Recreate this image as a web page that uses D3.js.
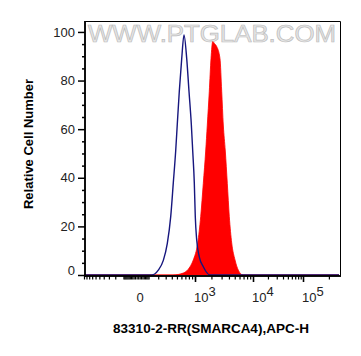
<!DOCTYPE html>
<html>
<head>
<meta charset="utf-8">
<script src="https://cdn.jsdelivr.net/npm/d3@7"></script>
<style>
  body { margin: 0; background: #fff; }
  text { font-family: "Liberation Sans", Arial, sans-serif; }
</style>
</head>
<body>
<svg width="361" height="356"></svg>
<script>
// Histogram data (fluorescence intensity, relative cell count)
const controlIntensity = [-1000, 132, 201, 266, 325, 381, 428, 474, 507, 551, 607, 664, 737, 803, 875, 921, 975, 1013, 1078, 1206, 1430, 1887, 262144];
const controlCount     = [0, 0, 2, 6, 13, 24, 38, 51, 62, 75.6, 89, 98.8, 89, 75.6, 62, 51, 38, 24, 14.4, 7.5, 3.4, 0, 0];

const stainedIntensity = [-1000, 422, 646, 834, 941, 1126, 1281, 1430, 1581, 1689, 1834, 1966, 2106, 2300, 2472, 2818, 3014, 3210, 3471, 3752, 4055, 4449, 5051, 5731, 6855, 262144];
const stainedCount     = [0, 0, 0.8, 3.4, 6.2, 13.2, 24, 37.7, 51, 61.7, 75.6, 89, 96, 95, 94, 89, 75.6, 61.7, 51, 37.7, 24, 13.2, 6.2, 2, 0, 0];

const yMajorTicks = [0, 20, 40, 60, 80, 100];
const xDecades = [3, 4, 5];
const xTitle = '83310-2-RR(SMARCA4),APC-H';
const yTitle = 'Relative Cell Number';

const svg = d3.select('svg');

// logicle-like x scale, piecewise symlog
const x = d3.scaleSymlog().constant(200)
  .domain([-1000, 0, 1e3, 1e4, 1e5, 262144])
  .range([84, 135, 195, 253, 303, 339]);
const y = d3.scaleLinear().domain([0, 104.5]).range([275, 21]);

const control = controlIntensity.map((v, i) => ({x: v, y: controlCount[i]}));
const stained = stainedIntensity.map((v, i) => ({x: v, y: stainedCount[i]}));

// watermark
svg.append('text')
  .attr('x', 88).attr('y', 42)
  .attr('textLength', 248).attr('lengthAdjust', 'spacingAndGlyphs')
  .attr('font-size', 23)
  .attr('fill', '#e6e6e6').attr('stroke', '#bdbdbd').attr('stroke-width', 0.7)
  .text('WWW.PTGLAB.COM');

// stained histogram (filled)
svg.append('path')
  .datum(stained)
  .attr('fill', '#ff0000')
  .attr('stroke', '#ff0000')
  .attr('stroke-width', 0.8)
  .attr('d', d3.area().curve(d3.curveMonotoneX)
    .x(d => x(d.x)).y0(y(0)).y1(d => y(d.y)));

// control histogram (line)
svg.append('path')
  .datum(control)
  .attr('fill', 'none')
  .attr('stroke', '#16167e')
  .attr('stroke-width', 1.4)
  .attr('d', d3.line().curve(d3.curveMonotoneX)
    .x(d => x(d.x)).y(d => y(d.y)));

// frame
svg.append('path')
  .attr('d', 'M85,21.5H340.5V275.5')
  .attr('fill', 'none').attr('stroke', '#000').attr('stroke-width', 1);

// y axis (minor and major ticks in separate groups)
const yMinor = d3.range(0, 101, 5).filter(v => v % 20 !== 0);
svg.append('g').attr('class', 'y-minor').attr('transform', 'translate(85,0)')
  .call(d3.axisLeft(y).tickValues(yMinor).tickSize(3).tickFormat(''));
const gy = svg.append('g').attr('class', 'y-major').attr('transform', 'translate(85,0)')
  .call(d3.axisLeft(y).tickValues(yMajorTicks).tickSize(7).tickPadding(3).tickFormat(d3.format('d')));
svg.selectAll('.y-minor .domain, .y-major .domain').attr('d', 'M0,21V277').attr('stroke-width', 1.5);
svg.selectAll('.y-minor .tick line, .y-major .tick line').attr('stroke-width', 1.5);
gy.selectAll('.tick text')
  .attr('font-size', 13).attr('fill', '#222')
  .filter(d => d === 0).attr('dy', '-0.05em');

// x axis
const xMinor = [];
d3.range(-100, 101, 10).forEach(v => xMinor.push(v));
d3.range(200, 1001, 100).forEach(v => { xMinor.push(v); xMinor.push(-v); });
[3, 4].forEach(p => d3.range(2, 10).forEach(k => xMinor.push(k * Math.pow(10, p))));
xMinor.push(2e5);
const xMajor = xDecades.map(p => Math.pow(10, p));

svg.append('g').attr('class', 'x-minor').attr('transform', 'translate(0,276)')
  .call(d3.axisBottom(x).tickValues(xMinor).tickSize(3.5).tickFormat(''));
svg.append('g').attr('class', 'x-major').attr('transform', 'translate(0,276)')
  .call(d3.axisBottom(x).tickValues(xMajor).tickSize(6).tickFormat(''));
svg.selectAll('.x-minor .domain, .x-major .domain').attr('d', 'M84,0H341').attr('stroke-width', 1.5);
svg.selectAll('.x-minor .tick line, .x-major .tick line').attr('stroke-width', 1.2).attr('stroke', '#000');
svg.selectAll('.x-major .tick line').attr('stroke-width', 1.6);

// x tick labels
svg.append('text')
  .attr('x', x(0) + 5).attr('y', 302)
  .attr('text-anchor', 'middle').attr('font-size', 13).attr('fill', '#222')
  .text('0');
xDecades.forEach(p => {
  const t = svg.append('text')
    .attr('x', x(Math.pow(10, p)) - 1).attr('y', 302)
    .attr('font-size', 13).attr('fill', '#222');
  t.append('tspan').text('10');
  t.append('tspan').attr('dy', -6).attr('font-size', 13).text(p);
});

// titles
svg.append('text')
  .attr('x', 211).attr('y', 333)
  .attr('text-anchor', 'middle').attr('font-size', 13.5).attr('font-weight', 'bold')
  .text(xTitle);

svg.append('text')
  .attr('transform', 'translate(33,144) rotate(-90)')
  .attr('text-anchor', 'middle').attr('font-size', 13).attr('font-weight', 'bold')
  .text(yTitle);
</script>
</body>
</html>
